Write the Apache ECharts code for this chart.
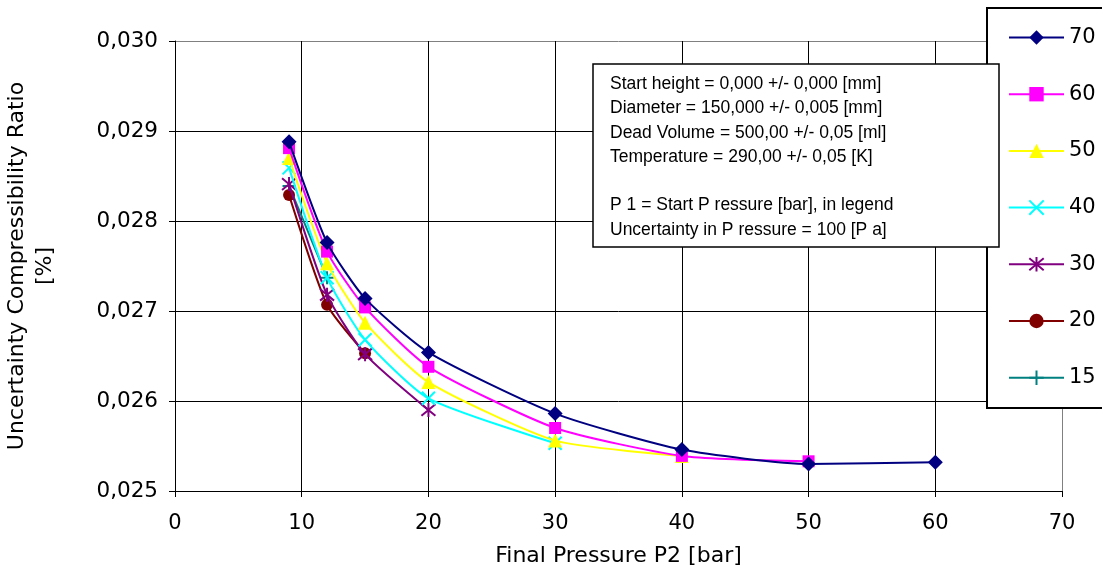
<!DOCTYPE html>
<html lang="en">
<head>
  <meta charset="UTF-8">
  <title>Uncertainty Compressibility Ratio</title>
  <style>
  html, body { margin: 0; padding: 0; background: #fff; }
  #main { width: 1102px; height: 571px; }
  </style>
  <script src="https://cdn.jsdelivr.net/npm/echarts@6/dist/echarts.min.js"></script>
</head>
<body>
  <div id="main"></div>
  <script>
  // start pressure P1 (legend) and the readings for each curve
  var names = ['70', '60', '50', '40', '30', '20', '15']
  var finalPressure = [9, 12, 15, 20, 30, 40, 50, 60]
  var p70 = [0.02888, 0.02776, 0.02714, 0.02654, 0.02586, 0.02546, 0.02530, 0.02532]
  var p60 = [0.02881, 0.02766, 0.02704, 0.02638, 0.02570, 0.02539, 0.02533]
  var p50 = [0.02870, 0.02753, 0.02687, 0.02621, 0.02556, 0.02539]
  var p40 = [0.02859, 0.02737, 0.02668, 0.02603, 0.02553]
  var p30 = [0.02841, 0.02718, 0.02652, 0.02590]
  var p20 = [0.02829, 0.02707, 0.02653]
  var p15 = [0.02839, 0.02737]
  var yTicks = [0.025, 0.030]
  var xTicks = [0, 70]
  var infoLines = [
    'Start height = 0,000 +/- 0,000 [mm]',
    'Diameter = 150,000 +/- 0,005 [mm]',
    'Dead Volume = 500,00 +/- 0,05 [ml]',
    'Temperature = 290,00 +/- 0,05 [K]',
    '',
    'P 1 = Start P ressure [bar], in legend',
    'Uncertainty in P ressure = 100 [P a]'
  ]

  var values = [p70, p60, p50, p40, p30, p20, p15]
  var colors = ['#000080', '#ff00ff', '#ffff00', '#00ffff', '#800080', '#800000', '#008080']
  var symbols = [
    'diamond', 'rect', 'triangle',
    'path://M0,0L10,10M10,0L0,10',
    'path://M0,0L10,10M10,0L0,10M5,-1L5,11',
    'circle',
    'path://M5,0L5,10M0,5L10,5'
  ]
  var sizes = [15, 12, 14, 13, 14, 12, 13]
  var stroked = [false, false, false, true, true, false, true]

  var series = names.map(function(n, i) {
    return {
      name: n,
      type: 'line',
      smooth: 0.2,
      symbol: symbols[i],
      symbolSize: sizes[i],
      showAllSymbol: true,
      lineStyle: { color: colors[i], width: 2 },
      itemStyle: stroked[i]
        ? { color: 'rgba(0,0,0,0)', borderColor: colors[i], borderWidth: 2 }
        : { color: colors[i], borderWidth: 0 },
      emphasis: { disabled: true },
      z: 10 - i,
      data: values[i].map(function(v, k) { return [finalPressure[k], v] })
    }
  })

  var chart = echarts.init(document.getElementById('main'))
  chart.setOption({
    animation: false,
    backgroundColor: '#fff',
    grid: { left: 175, right: 40, top: 41, bottom: 80, containLabel: false, outerBoundsMode: 'none' },
    xAxis: {
      type: 'value',
      min: xTicks[0],
      max: xTicks[1],
      interval: 10,
      name: 'Final Pressure P2 [bar]',
      nameLocation: 'middle',
      nameGap: 54,
      nameTextStyle: { fontFamily: 'DejaVu Sans', fontSize: 22, color: '#000' },
      axisLine: { lineStyle: { color: '#000', width: 1 } },
      axisTick: { show: true, length: 6, lineStyle: { color: '#000' } },
      axisLabel: { fontFamily: 'DejaVu Sans', fontSize: 21, color: '#000', margin: 22 },
      splitLine: {
        show: true,
        lineStyle: { color: ['#000', '#000', '#000', '#000', '#000', '#000', '#000', '#808080'], width: 1 }
      }
    },
    yAxis: {
      type: 'value',
      min: yTicks[0],
      max: yTicks[1],
      interval: 0.001,
      name: 'Uncertainty Compressibility Ratio\n[%]',
      nameLocation: 'middle',
      nameGap: 116,
      nameRotate: 90,
      nameTextStyle: { fontFamily: 'DejaVu Sans', fontSize: 22, color: '#000', lineHeight: 28 },
      axisLine: { show: true, lineStyle: { color: '#000', width: 1 } },
      axisTick: { show: true, length: 6, lineStyle: { color: '#000' } },
      axisLabel: {
        fontFamily: 'DejaVu Sans', fontSize: 21.5, color: '#000', margin: 17,
        formatter: function(v) { return v.toFixed(3).replace('.', ',') }
      },
      splitLine: {
        show: true,
        lineStyle: { color: ['#000', '#000', '#000', '#000', '#000', '#808080'], width: 1 }
      }
    },
    legend: {
      orient: 'vertical',
      left: 1008,
      top: 27,
      padding: 0,
      itemWidth: 55,
      itemHeight: 18,
      itemGap: 35.7,
      z: 20,
      textStyle: { fontFamily: 'DejaVu Sans', fontSize: 21, color: '#000' },
      data: names
    },
    graphic: [
      {
        type: 'rect', z: 15,
        shape: { x: 987, y: 8, width: 140, height: 400 },
        style: { fill: '#fff', stroke: '#000', lineWidth: 2 }
      },
      {
        type: 'rect', z: 30,
        shape: { x: 593, y: 64, width: 406, height: 183 },
        style: { fill: '#fff', stroke: '#000', lineWidth: 1.5 }
      },
      {
        type: 'text', z: 31, left: 610, top: 72,
        style: {
          text: infoLines.join('\n'),
          fontFamily: 'Liberation Sans',
          fontSize: 17.5,
          lineHeight: 24.3,
          fill: '#000'
        }
      }
    ],
    series: series
  })
  </script>
</body>
</html>
